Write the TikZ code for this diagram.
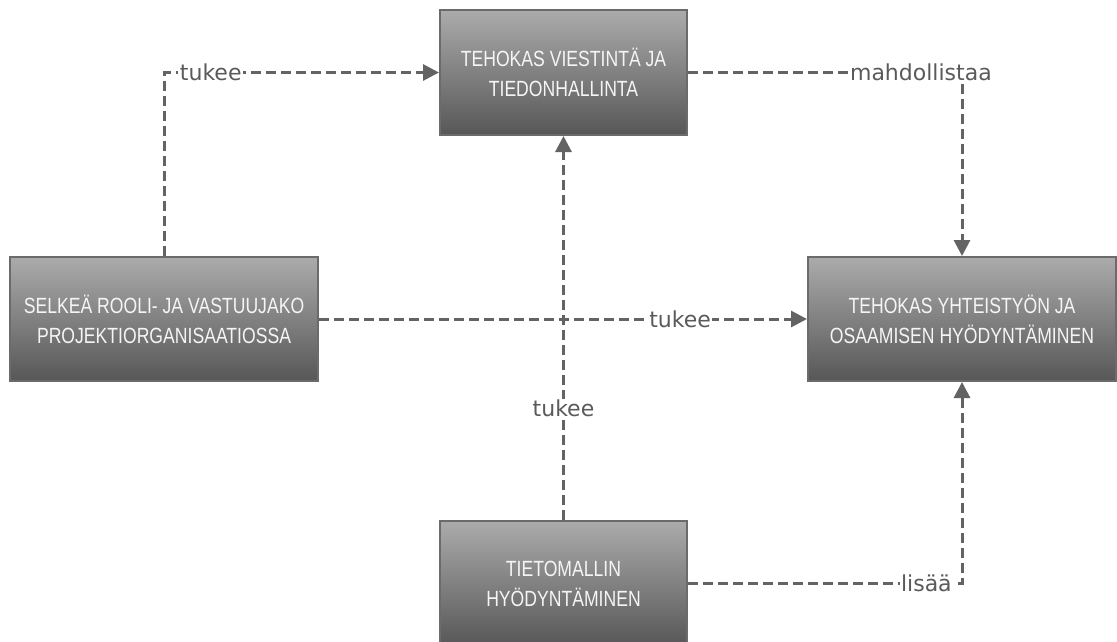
\documentclass[tikz,border=0pt]{standalone}
\usepackage{fontspec}
\setmainfont{DejaVu Sans}
\newfontfamily\boxfont{Liberation Sans}[FakeStretch=0.8]
\usetikzlibrary{positioning,arrows.meta}
\definecolor{boxtop}{HTML}{ABABAB}
\definecolor{boxbot}{HTML}{575757}
\definecolor{boxline}{HTML}{6B6B6B}
\definecolor{linkgray}{HTML}{636363}
\definecolor{lblgray}{HTML}{5A5A5A}

\begin{document}
\begin{tikzpicture}[
          x={(1pt,0)}, y={(0,-1pt)},
          box/.style={rectangle,draw=boxline,line width=2pt,top color=boxtop,bottom color=boxbot,
            text=white!96!black,align=center,inner sep=0pt,font=\boxfont\fontsize{22}{30}\selectfont},
          link/.style={draw=linkgray,line width=3pt,dash pattern=on 10pt off 5pt,
            -{Triangle[length=16pt,width=16pt]}},
          lbl/.style={fill=white,text=lblgray,inner sep=1.5pt,font=\fontsize{22}{24}\selectfont}
        ]
        \useasboundingbox (0,0) rectangle (1117,641);
        \node[box,minimum width=247pt,minimum height=125pt] (info) at (563.5,72.5) {TEHOKAS VIESTINTÄ JA\\TIEDONHALLINTA};
        \node[box,minimum width=308pt,minimum height=124pt] (roles) at (164,319) {SELKEÄ ROOLI- JA VASTUUJAKO\\PROJEKTIORGANISAATIOSSA};
        \node[box,minimum width=308pt,minimum height=124pt] (collab) at (962,319) {TEHOKAS YHTEISTYÖN JA\\OSAAMISEN HYÖDYNTÄMINEN};
        \node[box,minimum width=247pt,minimum height=125pt] (bim) at (563.5,583.5) {TIETOMALLIN\\HYÖDYNTÄMINEN};
        % yhteydet
        \draw[link] (roles.north) |- node[lbl,pos=0.585] {tukee} (info.west);
        \draw[link] (info.east) -| node[lbl,pos=0.425] {mahdollistaa} (collab.north);
        \draw[link] (roles.east) -- node[lbl,pos=0.74] {tukee} (collab.west);
        \draw[link] (bim.north) -- node[lbl,pos=0.29] {tukee} (info.south);
        \draw[link] (bim.east) -| node[lbl,pos=0.435] {lisää} (collab.south);
      \end{tikzpicture}
\end{document}
